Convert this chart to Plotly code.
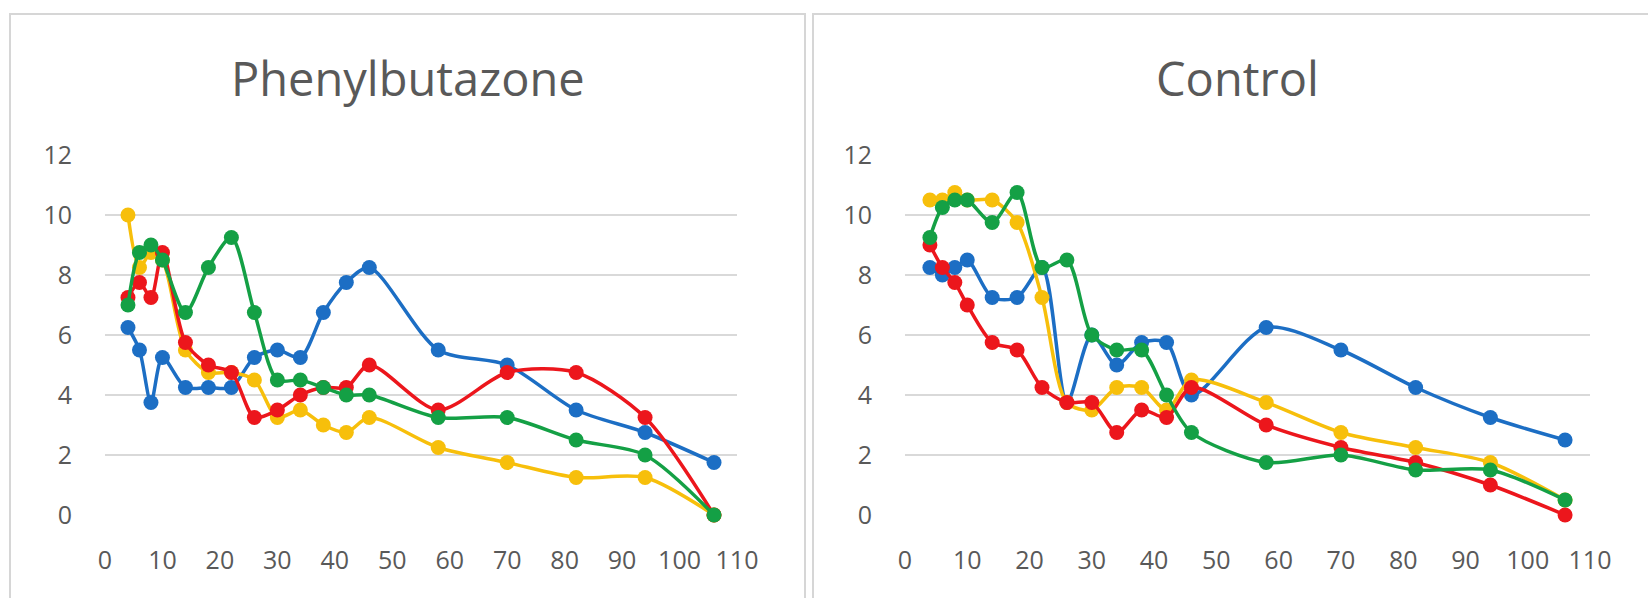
import plotly.graph_objects as go

# Sampling days (shared by both groups)
days = [4, 6, 8, 10, 14, 18, 22, 26, 30, 34, 38, 42, 46, 58, 70, 82, 94, 106]

# Phenylbutazone group
pb_blue = [6.25, 5.5, 3.75, 5.25, 4.25, 4.25, 4.25, 5.25, 5.5, 5.25, 6.75, 7.75, 8.25, 5.5, 5.0, 3.5, 2.75, 1.75]
pb_yellow = [10.0, 8.25, 8.75, 8.5, 5.5, 4.75, 4.75, 4.5, 3.25, 3.5, 3.0, 2.75, 3.25, 2.25, 1.75, 1.25, 1.25, 0.0]
pb_red = [7.25, 7.75, 7.25, 8.75, 5.75, 5.0, 4.75, 3.25, 3.5, 4.0, 4.25, 4.25, 5.0, 3.5, 4.75, 4.75, 3.25, 0.0]
pb_green = [7.0, 8.75, 9.0, 8.5, 6.75, 8.25, 9.25, 6.75, 4.5, 4.5, 4.25, 4.0, 4.0, 3.25, 3.25, 2.5, 2.0, 0.0]

# Control group
ct_blue = [8.25, 8.0, 8.25, 8.5, 7.25, 7.25, 8.25, 3.75, 6.0, 5.0, 5.75, 5.75, 4.0, 6.25, 5.5, 4.25, 3.25, 2.5]
ct_yellow = [10.5, 10.5, 10.75, 10.5, 10.5, 9.75, 7.25, 3.75, 3.5, 4.25, 4.25, 3.5, 4.5, 3.75, 2.75, 2.25, 1.75, 0.5]
ct_red = [9.0, 8.25, 7.75, 7.0, 5.75, 5.5, 4.25, 3.75, 3.75, 2.75, 3.5, 3.25, 4.25, 3.0, 2.25, 1.75, 1.0, 0.0]
ct_green = [9.25, 10.25, 10.5, 10.5, 9.75, 10.75, 8.25, 8.5, 6.0, 5.5, 5.5, 4.0, 2.75, 1.75, 2.0, 1.5, 1.5, 0.5]

titles = ["Phenylbutazone", "Control"]
x_ticks = list(range(0, 111, 10))
y_ticks = list(range(0, 13, 2))

colors = {"blue": "#1c6ec4", "yellow": "#f7bf0b", "red": "#ec161c", "green": "#14a045"}

W, H = 1648, 598

def px_x(p):
    return p / W

def px_y(p):
    return 1 - p / H

fig = go.Figure()

panels = [
    ("x", "y", [("blue", pb_blue), ("yellow", pb_yellow), ("red", pb_red), ("green", pb_green)]),
    ("x2", "y2", [("blue", ct_blue), ("yellow", ct_yellow), ("red", ct_red), ("green", ct_green)]),
]

for xa, ya, series in panels:
    for name, vals in series:
        fig.add_trace(go.Scatter(
            x=days, y=vals, xaxis=xa, yaxis=ya,
            mode="lines+markers",
            line=dict(color=colors[name], width=3.5, shape="spline", smoothing=0.8),
            marker=dict(color=colors[name], size=15),
            cliponaxis=False, showlegend=False, name=name,
        ))

tick_font = dict(family="Open Sans", size=25, color="#595959")
ydom = [px_y(515), px_y(155)]

common_x = dict(range=[0, 110], tickvals=x_ticks, showgrid=False, zeroline=False,
                showline=False, ticks="", tickfont=tick_font, ticklabelstandoff=28,
                automargin=False)
common_y = dict(range=[0, 12], tickvals=y_ticks, showgrid=True, gridcolor="#d9d9d9",
                gridwidth=2, zeroline=False, showline=False, ticks="",
                tickfont=tick_font, ticklabelstandoff=32, domain=ydom,
                automargin=False)

fig.update_layout(
    width=W, height=H,
    margin=dict(l=0, r=0, t=0, b=0, pad=0),
    paper_bgcolor="white", plot_bgcolor="white",
    xaxis=dict(domain=[px_x(105), px_x(737)], anchor="y", **common_x),
    yaxis=dict(anchor="x", **common_y),
    xaxis2=dict(domain=[px_x(905), px_x(1590)], anchor="y2", **common_x),
    yaxis2=dict(anchor="x2", **common_y),
)

# Panel frames
for x0, x1 in [(10, 805), (813, 1700)]:
    fig.add_shape(type="rect", xref="paper", yref="paper",
                  x0=px_x(x0), x1=px_x(x1), y0=-0.2, y1=px_y(14),
                  line=dict(color="#d6d6d6", width=2), fillcolor="rgba(0,0,0,0)",
                  layer="below")

# Panel titles
for cx, text in [(408, titles[0]), (1237, titles[1])]:
    fig.add_annotation(x=px_x(cx), y=px_y(78), xref="paper", yref="paper",
                       text=text, showarrow=False, xanchor="center", yanchor="middle",
                       font=dict(family="Open Sans", size=47, color="#595959"))

fig.write_html("out.html")
